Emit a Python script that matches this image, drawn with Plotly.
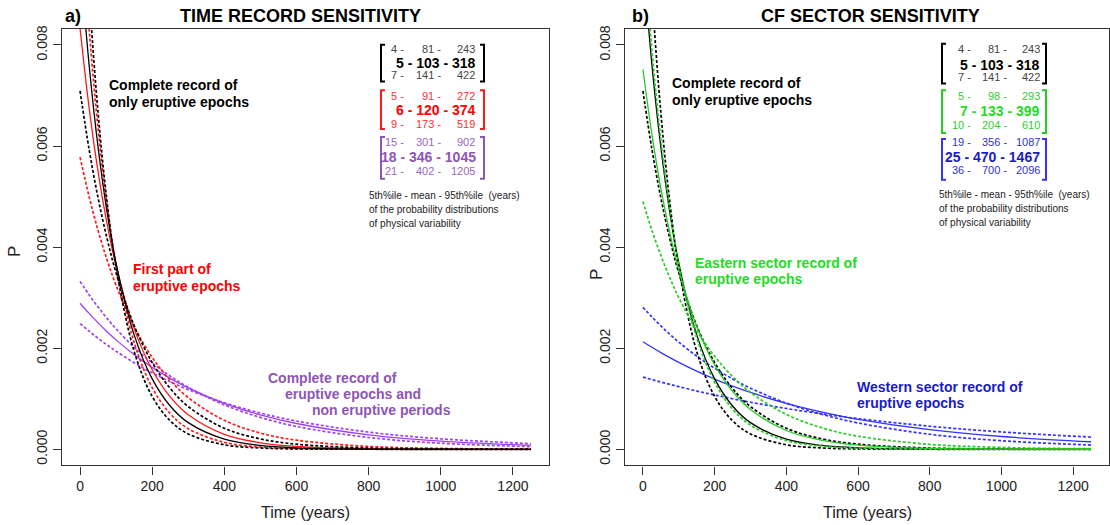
import plotly.graph_objects as go

W, H = 1110, 525

# ---------------- data ----------------
t_years = [0, 25, 50, 75, 100, 150, 200, 250, 300, 400, 500, 600, 800, 1000, 1250]

black_81 = [0.012346, 0.009068, 0.006659, 0.004891, 0.003593, 0.001937, 0.001045, 0.000564, 0.000304, 0.0000885, 0.0000257, 0.0000075, 0.0000006, 0.0, 0.0]
black_103 = [0.009709, 0.007617, 0.005976, 0.004688, 0.003678, 0.002263, 0.001393, 0.000857, 0.000527, 0.000200, 0.0000757, 0.0000287, 0.0000041, 0.0000006, 0.0]
black_141 = [0.007092, 0.005940, 0.004975, 0.004167, 0.003489, 0.002448, 0.001717, 0.001204, 0.000845, 0.000416, 0.000205, 0.000101, 0.0000244, 0.0000059, 0.0000010]

red_91 = [0.010989, 0.008350, 0.006343, 0.004820, 0.003662, 0.002114, 0.001220, 0.000705, 0.000407, 0.000136, 0.0000452, 0.0000150, 0.0000017, 0.0000002, 0.0]
red_120 = [0.008333, 0.006766, 0.005493, 0.004461, 0.003622, 0.002388, 0.001574, 0.001038, 0.000684, 0.000297, 0.000129, 0.0000561, 0.0000106, 0.0000020, 0.0000003]
red_173 = [0.005780, 0.005003, 0.004330, 0.003747, 0.003243, 0.002429, 0.001819, 0.001362, 0.001021, 0.000573, 0.000321, 0.000180, 0.0000567, 0.0000178, 0.0000042]

purple_301 = [0.003322, 0.003057, 0.002814, 0.002589, 0.002383, 0.002018, 0.001710, 0.001448, 0.001226, 0.000879, 0.000631, 0.000452, 0.000233, 0.000120, 0.0000522]
purple_346 = [0.002890, 0.002689, 0.002501, 0.002327, 0.002165, 0.001873, 0.001621, 0.001403, 0.001214, 0.000909, 0.000681, 0.000510, 0.000286, 0.000161, 0.0000780]
purple_402 = [0.002488, 0.002338, 0.002197, 0.002064, 0.001940, 0.001713, 0.001513, 0.001336, 0.001180, 0.000920, 0.000717, 0.000559, 0.000340, 0.000207, 0.000111]

green_98 = [0.010204, 0.007906, 0.006126, 0.004747, 0.003678, 0.002208, 0.001326, 0.000796, 0.000478, 0.000172, 0.0000621, 0.0000224, 0.0000029, 0.0000004, 0.0]
green_133 = [0.007519, 0.006230, 0.005163, 0.004278, 0.003545, 0.002434, 0.001671, 0.001148, 0.000788, 0.000372, 0.000175, 0.0000826, 0.0000184, 0.0000041, 0.0000006]
green_204 = [0.004902, 0.004337, 0.003836, 0.003394, 0.003002, 0.002350, 0.001839, 0.001439, 0.001126, 0.000690, 0.000423, 0.000259, 0.0000971, 0.0000364, 0.0000107]

blue_356 = [0.002809, 0.002619, 0.002441, 0.002275, 0.002121, 0.001843, 0.001602, 0.001392, 0.001209, 0.000913, 0.000690, 0.000521, 0.000297, 0.000169, 0.0000839]
blue_470 = [0.002128, 0.002018, 0.001913, 0.001814, 0.001720, 0.001547, 0.001390, 0.001250, 0.001124, 0.000908, 0.000735, 0.000594, 0.000388, 0.000253, 0.000149]
blue_700 = [0.001429, 0.001379, 0.001330, 0.001284, 0.001239, 0.001153, 0.001074, 0.001000, 0.000931, 0.000807, 0.000700, 0.000607, 0.000456, 0.000343, 0.000240]

x_ticks = [0, 200, 400, 600, 800, 1000, 1200]
y_ticks = [0.000, 0.002, 0.004, 0.006, 0.008]
y_tick_text = ["0.000", "0.002", "0.004", "0.006", "0.008"]

legend_a = [
    ("black", [("4 -", "81 -", "243"), ("5 -", "103 -", "318"), ("7 -", "141 -", "422")]),
    ("red", [("5 -", "91 -", "272"), ("6 -", "120 -", "374"), ("9 -", "173 -", "519")]),
    ("purple", [("15 -", "301 -", "902"), ("18 -", "346 -", "1045"), ("21 -", "402 -", "1205")]),
]
legend_b = [
    ("black", [("4 -", "81 -", "243"), ("5 -", "103 -", "318"), ("7 -", "141 -", "422")]),
    ("green", [("5 -", "98 -", "293"), ("7 -", "133 -", "399"), ("10 -", "204 -", "610")]),
    ("blue", [("19 -", "356 -", "1087"), ("25 -", "470 -", "1467"), ("36 -", "700 -", "2096")]),
]

# ---------------- styles ----------------
FONT = "Liberation Sans, Arial, sans-serif"
LINE_COL = {"black": "#000000", "red": "#FF1A1A", "purple": "#A040F0",
            "green": "#22CC22", "blue": "#3333FF"}
TEXT_COL = {"black": "#000000", "red": "#FF0000", "purple": "#8E55B5",
            "green": "#22DD22", "blue": "#1A1AC8"}
NUM_COL_LIGHT = {"black": "#444444", "red": "#FF3030", "purple": "#9966C0",
                 "green": "#33CC33", "blue": "#3030D0"}


def px(x):
    return x / W


def py(y):
    return 1 - y / H


fig = go.Figure()


def add_curve(y, color, dashed, xa, ya):
    fig.add_trace(go.Scatter(
        x=t_years, y=y, mode="lines", xaxis=xa, yaxis=ya,
        line=dict(color=LINE_COL[color], width=1.7 if dashed else 1.3,
                  dash="3px,2px" if dashed else "solid", shape="spline"),
        showlegend=False, hoverinfo="skip"))


# panel a
for arr, dsh in [(purple_301, True), (purple_402, True), (purple_346, False)]:
    add_curve(arr, "purple", dsh, "x", "y")
for arr, dsh in [(red_91, True), (red_173, True), (red_120, False)]:
    add_curve(arr, "red", dsh, "x", "y")
for arr, dsh in [(black_81, True), (black_141, True), (black_103, False)]:
    add_curve(arr, "black", dsh, "x", "y")

# panel b
for arr, dsh in [(blue_356, True), (blue_700, True), (blue_470, False)]:
    add_curve(arr, "blue", dsh, "x2", "y2")
for arr, dsh in [(black_81, True), (black_141, True), (black_103, False)]:
    add_curve(arr, "black", dsh, "x2", "y2")
for arr, dsh in [(green_98, True), (green_204, True), (green_133, False)]:
    add_curve(arr, "green", dsh, "x2", "y2")

# axes
ydom = [py(465), py(25)]
xdom_a = [px(62), px(549)]
xdom_b = [px(625), px(1109)]
common_x = dict(range=[-50, 1300], tickvals=x_ticks, ticks="outside", ticklen=8,
                tickcolor="#333", showline=True, mirror=True, linecolor="#333",
                linewidth=1.2, showgrid=False, zeroline=False,
                tickfont=dict(family=FONT, size=14, color="#222"))
common_y = dict(range=[-0.00032, 0.00832], tickvals=y_ticks, ticktext=y_tick_text,
                ticks="outside", ticklen=8, tickcolor="#333", showline=True,
                mirror=True, linecolor="#333", linewidth=1.2, showgrid=False,
                zeroline=False, tickangle=-90,
                tickfont=dict(family=FONT, size=14, color="#222"))

fig.update_layout(
    width=W, height=H, margin=dict(l=0, r=0, t=0, b=0),
    paper_bgcolor="white", plot_bgcolor="white",
    xaxis=dict(domain=xdom_a, anchor="y", **common_x),
    yaxis=dict(domain=ydom, anchor="x", **common_y),
    xaxis2=dict(domain=xdom_b, anchor="y2", **common_x),
    yaxis2=dict(domain=ydom, anchor="x2", **common_y),
    font=dict(family=FONT),
)

ann = []


def text(x, y, s, size=13, color="#000", bold=False, xanchor="left", angle=0):
    if bold:
        s = "<b>" + s + "</b>"
    ann.append(dict(x=px(x), y=py(y), xref="paper", yref="paper", text=s,
                    showarrow=False, xanchor=xanchor, yanchor="middle",
                    textangle=angle,
                    font=dict(family=FONT, size=size, color=color)))


# titles
text(63, 12, "a)", 18, "#000", True)
text(300, 12, "TIME RECORD SENSITIVITY", 18, "#000", True, "center")
text(630, 12, "b)", 18, "#000", True)
text(870, 12, "CF SECTOR SENSITIVITY", 18, "#000", True, "center")

# axis titles
for cx in (305, 867):
    text(cx, 512, "Time (years)", 16, "#222", False, "center")
text(14, 250, "P", 17, "#222", False, "center", -90)
text(597, 272, "P", 17, "#222", False, "center", -90)

# curve labels panel a
text(107, 82, "Complete record of", 14, "#000", True)
text(107, 99, "only eruptive epochs", 14, "#000", True)
text(131, 267, "First part of", 14, TEXT_COL["red"], True)
text(131, 284, "eruptive epochs", 14, TEXT_COL["red"], True)
text(266, 377, "Complete record of", 14, TEXT_COL["purple"], True)
text(283, 393, "eruptive epochs and", 14, TEXT_COL["purple"], True)
text(310, 409, "non eruptive periods", 14, TEXT_COL["purple"], True)

# curve labels panel b
text(670, 80, "Complete record of", 14, "#000", True)
text(670, 97, "only eruptive epochs", 14, "#000", True)
text(693, 261, "Eastern sector record of", 14, TEXT_COL["green"], True)
text(693, 277, "eruptive epochs", 14, TEXT_COL["green"], True)
text(855, 386, "Western sector record of", 14, TEXT_COL["blue"], True)
text(855, 402, "eruptive epochs", 14, TEXT_COL["blue"], True)

shapes = []


def bracket(xl, xr, y0, y1, color):
    w = 4
    for path in (
        f"M {px(xl + w)} {py(y0)} L {px(xl)} {py(y0)} L {px(xl)} {py(y1)} L {px(xl + w)} {py(y1)}",
        f"M {px(xr - w)} {py(y0)} L {px(xr)} {py(y0)} L {px(xr)} {py(y1)} L {px(xr - w)} {py(y1)}",
    ):
        shapes.append(dict(type="path", xref="paper", yref="paper", path=path,
                           line=dict(color=color, width=2)))


def legend_block(groups, rows_y, brackets_y, xl, xr, cols_norm, bold_right):
    for (color, rows), ys, (b0, b1) in zip(groups, rows_y, brackets_y):
        bracket(xl, xr, b0, b1, LINE_COL[color] if color != "purple" else TEXT_COL["purple"])
        for i, (row, yy) in enumerate(zip(rows, ys)):
            if i == 1:
                text(bold_right, yy, " ".join(row), 14, TEXT_COL[color], True, "right")
            else:
                for s, cx in zip(row, cols_norm):
                    text(cx, yy, s, 11, NUM_COL_LIGHT[color], False, "right")


legend_block(legend_a,
             [(45, 59, 72), (93, 107, 121), (139, 154, 168)],
             [(41, 78), (87, 126), (134, 176)],
             381, 484, (406, 443, 477), 478)
legend_block(legend_b,
             [(45, 61, 74), (93, 108, 122), (139, 154, 167)],
             [(40, 80), (87, 130), (136, 177)],
             942, 1046, (973, 1009, 1042), 1042)

for x0, ys in ((367, (193, 207, 221)), (937, (192, 206, 220))):
    text(x0, ys[0], "5th%ile - mean - 95th%ile  (years)", 10, "#222")
    text(x0, ys[1], "of the probability distributions", 10, "#222")
    text(x0, ys[2], "of physical variability", 10, "#222")

fig.update_layout(annotations=ann, shapes=shapes)
fig.write_html("out.html")
